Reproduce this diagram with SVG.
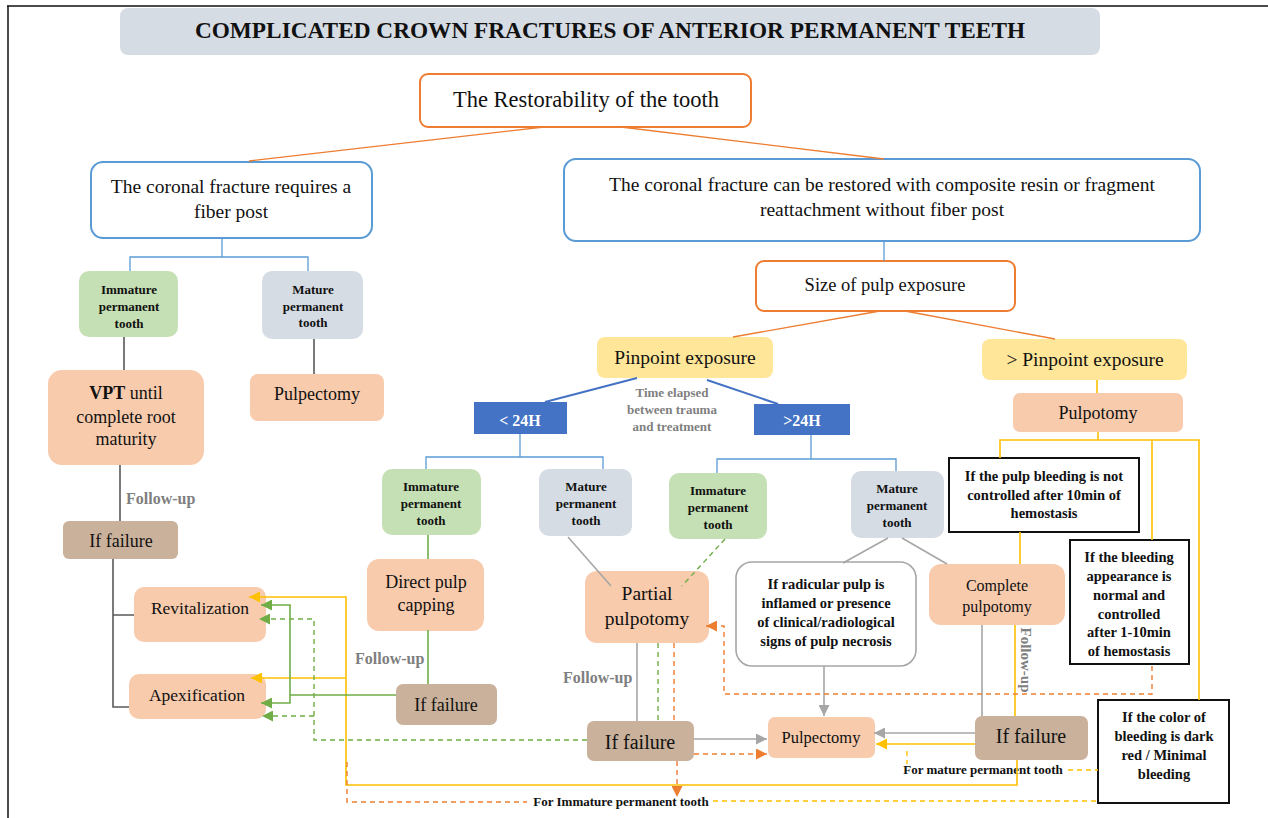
<svg xmlns="http://www.w3.org/2000/svg" width="1268" height="818" viewBox="0 0 1268 818">
<style>
text{font-family:"Liberation Serif","Times New Roman",serif;fill:#111;text-anchor:middle}
.b{font-weight:bold}
.sm{font-size:13px;font-weight:bold}
.md{font-size:14.5px;font-weight:bold}
.fu{font-size:16px;font-weight:bold;fill:#7f7f7f}
.peach{fill:#f8cbad}
.green{fill:#c5e0b4}
.grayb{fill:#d6dce4}
.brown{fill:#c9b19b}
.yel{fill:#ffe699}
.dblue{fill:#4472c4}
.wb{fill:#fff;stroke:#111;stroke-width:2}
.ob{fill:#fff;stroke:#ed7d31;stroke-width:2}
.bb{fill:#fff;stroke:#5b9bd5;stroke-width:2}
.conn path,.conn line{fill:none}
.cO{stroke:#ed7d31;stroke-width:1.3}
.cB{stroke:#5b9bd5;stroke-width:1.3}
.cDB{stroke:#4472c4;stroke-width:2}
.cY{stroke:#ffc000;stroke-width:1.6}
.cYd{stroke:#ffc000;stroke-width:1.4;stroke-dasharray:5,4}
.cG{stroke:#70ad47;stroke-width:1.6}
.cGd{stroke:#70ad47;stroke-width:1.4;stroke-dasharray:5,4}
.cGr{stroke:#a6a6a6;stroke-width:1.6}
.cOd{stroke:#ed7d31;stroke-width:1.4;stroke-dasharray:5,4}
.cK{stroke:#595959;stroke-width:1.6}
</style>
<defs>
<marker id="aY" viewBox="0 0 10 10" refX="10" refY="5" markerWidth="11" markerHeight="11" markerUnits="userSpaceOnUse" orient="auto"><path d="M0,0 L10,5 L0,10 z" fill="#ffc000"/></marker>
<marker id="aG" viewBox="0 0 10 10" refX="10" refY="5" markerWidth="11" markerHeight="11" markerUnits="userSpaceOnUse" orient="auto"><path d="M0,0 L10,5 L0,10 z" fill="#70ad47"/></marker>
<marker id="aGr" viewBox="0 0 10 10" refX="10" refY="5" markerWidth="11" markerHeight="11" markerUnits="userSpaceOnUse" orient="auto"><path d="M0,0 L10,5 L0,10 z" fill="#a6a6a6"/></marker>
<marker id="aO" viewBox="0 0 10 10" refX="10" refY="5" markerWidth="11" markerHeight="11" markerUnits="userSpaceOnUse" orient="auto"><path d="M0,0 L10,5 L0,10 z" fill="#ed7d31"/></marker>
</defs>
<rect x="0" y="0" width="1268" height="818" fill="#fff"/>
<path d="M7,6 H1268 M8,6 V818" stroke="#111" stroke-width="1.5" fill="none"/>

<g id="title"><rect x="120" y="8" width="980" height="47" rx="8" class="grayb"/><text x="610" y="37.5" class="b" style="font-size:23.3px">COMPLICATED CROWN FRACTURES OF ANTERIOR PERMANENT TEETH</text></g>
<g id="restorability"><rect x="420" y="74" width="331" height="53" rx="8" class="ob"/><text x="586" y="106.5" style="font-size:22.5px">The Restorability of the tooth</text></g>
<g id="fiberpost"><rect x="91" y="162" width="281" height="76" rx="12" class="bb"/><text x="231" y="193" style="font-size:19.5px">The coronal fracture requires a</text><text x="231" y="218" style="font-size:19.5px">fiber post</text></g>
<g id="composite"><rect x="564" y="159" width="636" height="82" rx="12" class="bb"/><text x="882" y="190.5" style="font-size:19.5px">The coronal fracture can be restored with composite resin or fragment</text><text x="882" y="215.5" style="font-size:19.5px">reattachment without fiber post</text></g>
<g id="immature1"><rect x="79" y="271" width="99" height="66" rx="10" class="green"/><text x="129" y="293.5" class="sm">Immature</text><text x="129" y="310.5" class="sm">permanent</text><text x="129" y="327.5" class="sm">tooth</text></g>
<g id="mature1"><rect x="262" y="271" width="101" height="68" rx="10" class="grayb"/><text x="313" y="293.5" class="sm">Mature</text><text x="313" y="310.5" class="sm">permanent</text><text x="313" y="327" class="sm">tooth</text></g>
<g id="vpt"><rect x="48" y="370" width="156" height="95" rx="14" class="peach"/><text x="126" y="399" style="font-size:18px"><tspan font-weight="bold">VPT</tspan> until</text><text x="126" y="423" style="font-size:18px">complete root</text><text x="126" y="445" style="font-size:18px">maturity</text></g>
<g id="pulpectomy1"><rect x="250" y="374" width="134" height="47" rx="8" class="peach"/><text x="317" y="400" style="font-size:18px">Pulpectomy</text></g>
<text x="126" y="504" class="fu" style="text-anchor:start">Follow-up</text>
<g id="failure1"><rect x="63" y="521" width="115" height="38" rx="6" class="brown"/><text x="121" y="547" style="font-size:18px">If failure</text></g>
<g id="revitalization"><rect x="134" y="587" width="132" height="55" rx="10" class="peach"/><text x="200" y="614" style="font-size:17.5px">Revitalization</text></g>
<g id="apexification"><rect x="129" y="674" width="137" height="45" rx="10" class="peach"/><text x="197" y="701" style="font-size:17.5px">Apexification</text></g>
<g id="size"><rect x="756" y="261" width="259" height="50" rx="8" class="ob"/><text x="885" y="291" style="font-size:18.5px">Size of pulp exposure</text></g>
<g id="pinpoint"><rect x="597" y="337" width="176" height="41" rx="8" class="yel"/><text x="685" y="363.5" style="font-size:19.5px">Pinpoint exposure</text></g>
<g id="gtpinpoint"><rect x="982" y="339" width="205" height="41" rx="8" class="yel"/><text x="1085" y="366" style="font-size:19.5px">&gt; Pinpoint exposure</text></g>
<g id="lt24"><rect x="474" y="402" width="93" height="32" class="dblue"/><text x="520" y="425.5" class="b" style="font-size:16px;fill:#fff">&lt; 24H</text></g>
<g id="gt24"><rect x="754" y="404" width="96" height="31" class="dblue"/><text x="802" y="425.5" class="b" style="font-size:16px;fill:#fff">&gt;24H</text></g>
<text x="672" y="397" class="sm" style="fill:#7f7f7f">Time elapsed</text>
<text x="672" y="414" class="sm" style="fill:#7f7f7f">between trauma</text>
<text x="672" y="431" class="sm" style="fill:#7f7f7f">and treatment</text>
<g id="pulpotomy"><rect x="1013" y="393" width="170" height="39" rx="7" class="peach"/><text x="1098" y="419" style="font-size:18px">Pulpotomy</text></g>
<g id="immature2"><rect x="382" y="469" width="99" height="66" rx="10" class="green"/><text x="431" y="491" class="sm">Immature</text><text x="431" y="508" class="sm">permanent</text><text x="431" y="525" class="sm">tooth</text></g>
<g id="mature2"><rect x="539" y="469" width="93" height="67" rx="10" class="grayb"/><text x="586" y="491" class="sm">Mature</text><text x="586" y="508" class="sm">permanent</text><text x="586" y="525" class="sm">tooth</text></g>
<g id="immature3"><rect x="669" y="473" width="98" height="66" rx="10" class="green"/><text x="718" y="495" class="sm">Immature</text><text x="718" y="512" class="sm">permanent</text><text x="718" y="529" class="sm">tooth</text></g>
<g id="mature3"><rect x="851" y="471" width="93" height="67" rx="10" class="grayb"/><text x="897" y="493" class="sm">Mature</text><text x="897" y="510" class="sm">permanent</text><text x="897" y="527" class="sm">tooth</text></g>
<g id="bleed10"><rect x="949" y="458" width="190" height="74" class="wb"/><text x="1044" y="481" class="md">If the pulp bleeding is not</text><text x="1044" y="499.5" class="md">controlled after 10min of</text><text x="1044" y="518" class="md">hemostasis</text></g>
<g id="directcap"><rect x="367" y="559" width="117" height="72" rx="12" class="peach"/><text x="426" y="588" style="font-size:18px">Direct pulp</text><text x="426" y="611" style="font-size:18px">capping</text></g>
<g id="partial"><rect x="585" y="571" width="124" height="72" rx="12" class="peach"/><text x="647" y="599.5" style="font-size:19.5px">Partial</text><text x="647" y="624.5" style="font-size:19.5px">pulpotomy</text></g>
<g id="radicular"><rect x="736" y="562" width="180" height="104" rx="16" fill="#fff" stroke="#a6a6a6" stroke-width="1.6"/><text x="826" y="589" class="md">If radicular pulp is</text><text x="826" y="608" class="md">inflamed or presence</text><text x="826" y="627" class="md">of clinical/radiological</text><text x="826" y="646" class="md">signs of pulp necrosis</text></g>
<g id="complete"><rect x="929" y="564" width="136" height="61" rx="12" class="peach"/><text x="997" y="590.5" style="font-size:16px">Complete</text><text x="997" y="611.5" style="font-size:16px">pulpotomy</text></g>
<g id="bleednormal"><rect x="1070" y="540" width="119" height="124" class="wb"/><text x="1129" y="562" class="md">If the bleeding</text><text x="1129" y="581" class="md">appearance is</text><text x="1129" y="600" class="md">normal and</text><text x="1129" y="618.5" class="md">controlled</text><text x="1129" y="637" class="md">after 1-10min</text><text x="1129" y="656" class="md">of hemostasis</text></g>
<text x="355" y="664" class="fu" style="text-anchor:start">Follow-up</text>
<text x="563" y="683" class="fu" style="text-anchor:start">Follow-up</text>
<text transform="translate(1021,660) rotate(90)" class="fu" style="font-size:15px">Follow-up</text>
<g id="failure2"><rect x="396" y="684" width="101" height="41" rx="7" class="brown"/><text x="446" y="711" style="font-size:18px">If failure</text></g>
<g id="failure3"><rect x="587" y="721" width="107" height="40" rx="7" class="brown"/><text x="640" y="748.5" style="font-size:20px">If failure</text></g>
<g id="pulpectomy2"><rect x="768" y="717" width="107" height="41" rx="7" class="peach"/><text x="821" y="742.5" style="font-size:16.5px">Pulpectomy</text></g>
<g id="failure4"><rect x="975" y="716" width="113" height="44" rx="7" class="brown"/><text x="1031" y="743" style="font-size:20px">If failure</text></g>
<g id="darkred"><rect x="1098" y="700" width="131" height="103" class="wb"/><text x="1164" y="722" class="md">If the color of</text><text x="1164" y="741" class="md">bleeding is dark</text><text x="1164" y="760" class="md">red / Minimal</text><text x="1164" y="778.5" class="md">bleeding</text></g>
<text x="983" y="774" class="sm">For mature permanent tooth</text>
<text x="621" y="806" class="sm">For Immature permanent tooth</text>

<g id="connectors" class="conn">
<line class="cO" x1="544" y1="127" x2="249" y2="161"/>
<line class="cO" x1="621" y1="127" x2="884" y2="159"/>
<line class="cO" x1="880" y1="311" x2="733" y2="337"/>
<line class="cO" x1="905" y1="311" x2="1055" y2="339"/>
<path class="cB" d="M222,238 V257 M130,271 V257 H308 V271"/>
<path class="cB" d="M884,241 V261"/>
<path class="cB" d="M520,434 V457 M426,469 V457 H603 V469"/>
<path class="cB" d="M811,435 V459 M717,473 V459 H896 V471"/>
<line class="cDB" x1="637" y1="378" x2="545" y2="402"/>
<line class="cDB" x1="707" y1="380" x2="778" y2="404"/>
<path class="cK" d="M124,337 V370 M314,339 V374 M120,465 V521 M113,559 V707 H129 M113,615 H134"/>
<path class="cY" d="M1097,380 V393 M1098,432 V440 M1000,458 V440 H1199 V700 M1152,440 V540 M1020,532 V564 M1015,625 V716"/>
<path class="cY" d="M1017,760 V785 H346 V597 H249" marker-end="url(#aY)"/>
<path class="cY" d="M346,678 H251" marker-end="url(#aY)"/>
<path class="cY" d="M975,744 H876" marker-end="url(#aY)"/>
<path class="cYd" d="M713,801 H1098 M1068,770 H1098 M907,751 V764"/>
<path d="M619,795 L624,785 L629,795 z" fill="#ffc000"/>
<path d="M902,752 L907,742 L912,752 z" fill="#ffc000"/>
<path class="cG" d="M428,535 V559 M428,630 V684"/>
<path class="cG" d="M396,695 H290 V605 H261" marker-end="url(#aG)"/>
<path class="cG" d="M290,695 V703 H261" marker-end="url(#aG)"/>
<path class="cGd" d="M725,539 L682,586 M658,643 V721"/>
<path class="cGd" d="M587,740 H314 V619 H259" marker-end="url(#aG)"/>
<path class="cGd" d="M314,716 H262" marker-end="url(#aG)"/>
<path class="cGr" d="M568,537 L611,586 M637,643 V721 M888,538 L843,563 M902,538 L947,564 M982,625 V716"/>
<path class="cGr" d="M824,666 V716" marker-end="url(#aGr)"/>
<path class="cGr" d="M975,733 H874" marker-end="url(#aGr)"/>
<path class="cGr" d="M694,739 H767" marker-end="url(#aGr)"/>
<path class="cOd" d="M1152,666 V694 H724 V626 H706" marker-end="url(#aO)"/>
<path class="cOd" d="M674,643 V721 M347,762 V802 H527"/>
<path class="cOd" d="M677,761 V797" marker-end="url(#aO)"/>
<path class="cOd" d="M694,754 H767" marker-end="url(#aO)"/>
</g>
</svg>
